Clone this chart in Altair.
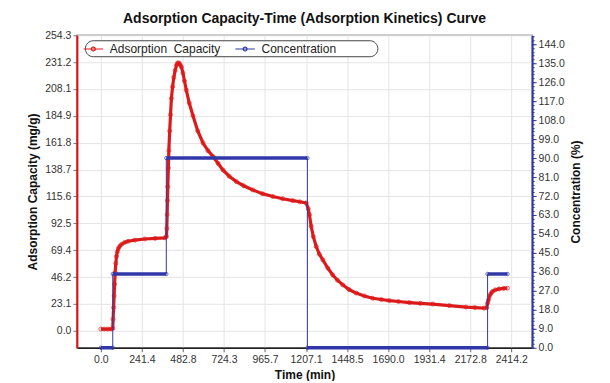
import altair as alt
import pandas as pd

# ---- data ----
TIME = [0, 20, 40, 60, 70, 72, 75, 78, 81, 84, 88, 92, 97, 104, 112, 123, 140, 160, 200, 258, 320, 376,
        386, 388, 390, 392, 394, 397, 400, 405, 410, 415, 422, 429, 437, 445, 452, 460, 467, 474, 483, 492,
        503, 520, 542, 570, 601, 630, 660, 690, 718, 755, 797, 840, 894, 950, 1012, 1070, 1129, 1170, 1208,
        1220, 1227, 1237, 1250, 1267, 1285, 1306, 1335, 1364, 1392, 1423, 1460, 1502, 1550, 1599, 1650,
        1697, 1750, 1815, 1880, 1952, 2050, 2148, 2200, 2255, 2270, 2275, 2280, 2285, 2294, 2304, 2320,
        2343, 2370, 2392]
CAPACITY = [1.5, 1.5, 1.5, 1.5, 2, 10, 20, 30, 40, 50, 58, 64, 68, 71, 73, 74.5, 76, 77, 78, 79, 79.5, 80,
            81, 88, 100, 112, 124, 140, 155, 172, 186, 200, 210, 218, 224, 228.7, 230.5, 230.4, 229, 227,
            221.8, 215, 207, 196, 185, 172, 161.6, 155, 150, 144, 138.4, 133, 128.4, 124.8, 121.2, 118,
            115.5, 113.6, 112, 111, 110, 105, 100, 90, 81, 72.5, 66, 61, 54, 48, 43.5, 39.5, 35.5, 32.4,
            30, 28, 26.9, 26, 25.2, 24.3, 23.6, 23, 21.7, 20.4, 20, 19.5, 19.8, 23.8, 26.5, 29.5, 32, 33.8,
            35.2, 36, 36.5, 36.7]

CONC_TIME = [0, 70, 70, 385, 385, 1215, 1215, 2275, 2275, 2392]
CONC_VALUE = [0, 0, 35, 35, 90, 90, 0, 0, 35, 35]

SEG_START = [0, 70, 385, 1215, 2275]
SEG_END = [70, 385, 1215, 2275, 2392]
SEG_LEVEL = [0, 35, 90, 0, 35]

X_TICKS = [0.0, 241.4, 482.8, 724.3, 965.7, 1207.1, 1448.5, 1690.0, 1931.4, 2172.8, 2414.2]
LEFT_TICKS = [0.0, 23.1, 46.2, 69.4, 92.5, 115.6, 138.7, 161.8, 184.9, 208.1, 231.2, 254.3]
RIGHT_TICKS = [0, 9, 18, 27, 36, 45, 54, 63, 72, 81, 90, 99, 108, 117, 126, 135, 144]
RIGHT_MINOR = [round(i * 1.8, 1) for i in range(83)]

SERIES = ["Adsorption \u00a0Capacity", "Concentration"]
RED = "#dd1a1a"
BLUE = "#3038a8"
FONT = "Liberation Sans"

red_df = pd.DataFrame({"t": TIME, "c": CAPACITY, "series": SERIES[0]})
blue_df = pd.DataFrame({"t": CONC_TIME, "v": CONC_VALUE, "series": SERIES[1],
                        "i": list(range(len(CONC_TIME)))})
seg_df = pd.DataFrame({"s": SEG_START, "e": SEG_END, "v": SEG_LEVEL})

xscale = alt.Scale(domain=[-141, 2537], nice=False, zero=False)
lscale = alt.Scale(domain=[-14.6, 254.3], nice=False, zero=False)
rscale = alt.Scale(domain=[0, 148.3], nice=False, zero=False)

xaxis = alt.Axis(values=X_TICKS, format=".1f", title="Time (min)", grid=True, gridColor="#e4e4e4",
                 domainColor="#222", domainWidth=1.5, tickColor="#666", tickSize=4, tickCount=100,
                 labelFontSize=10.5, labelPadding=3, titlePadding=4, labelOverlap=False)
laxis = alt.Axis(values=LEFT_TICKS, format=".1f", title="Adsorption Capacity (mg/g)", grid=True,
                 gridColor="#e4e4e4", domainColor="#e01010", domainWidth=2, tickColor="#777",
                 tickSize=4, tickCount=100, labelFontSize=10.5, labelPadding=2, titlePadding=5,
                 labelOverlap=False)
raxis = alt.Axis(values=RIGHT_TICKS, format=".1f", title="Concentration (%)", orient="right",
                 grid=False, domainColor=BLUE, domainWidth=2, tickColor=BLUE, tickSize=4,
                 tickCount=100, labelFontSize=10.5, labelPadding=2, titlePadding=6, titleAngle=270,
                 titleBaseline="top", labelOverlap=False)
minor_axis = alt.Axis(values=RIGHT_MINOR, orient="right", labels=False, domain=False, grid=False,
                      tickColor=BLUE, tickSize=2, tickCount=500, title=None, labelOverlap=False)

color_scale = alt.Scale(domain=SERIES, range=[RED, BLUE])
SYMBOL = "M-1.5,0H1.5M-0.3,0A0.3,0.3,0,1,0,0.3,0A0.3,0.3,0,1,0,-0.3,0"
legend = alt.Legend(orient="none", legendX=8, legendY=5, direction="horizontal",
                    title="\u2003\u2003", titleOrient="right", titleFontSize=11, titlePadding=40,
                    symbolType=SYMBOL, symbolSize=170, symbolStrokeWidth=1.2,
                    labelFontSize=12, labelFont=FONT, labelColor="#222", labelOffset=9,
                    fillColor="white", strokeColor="#444", cornerRadius=8, padding=1,
                    columnPadding=12)

red_line = alt.Chart(red_df).mark_line(strokeWidth=3.2).encode(
    x=alt.X("t:Q", scale=xscale, axis=xaxis),
    y=alt.Y("c:Q", scale=lscale, axis=laxis),
    color=alt.Color("series:N", scale=color_scale, legend=legend),
)
red_pts = alt.Chart(red_df).mark_point(shape="circle", size=16, filled=False, color=RED,
                                       strokeWidth=1).encode(
    x=alt.X("t:Q", scale=xscale),
    y=alt.Y("c:Q", scale=lscale),
)
left = alt.layer(red_line, red_pts)

blue_line = alt.Chart(blue_df).mark_line(strokeWidth=1).encode(
    x=alt.X("t:Q", scale=xscale),
    y=alt.Y("v:Q", scale=rscale, axis=raxis),
    order=alt.Order("i:Q"),
    color=alt.Color("series:N", scale=color_scale, legend=legend),
)
blue_seg = alt.Chart(seg_df).mark_rule(strokeWidth=3.5, color=BLUE).encode(
    x=alt.X("s:Q", scale=xscale),
    x2="e:Q",
    y=alt.Y("v:Q", scale=rscale),
)
blue_pts = alt.Chart(blue_df).mark_point(shape="circle", size=12, filled=False, color=BLUE,
                                         strokeWidth=1).encode(
    x=alt.X("t:Q", scale=xscale),
    y=alt.Y("v:Q", scale=rscale),
)
right = alt.layer(blue_line, blue_seg, blue_pts)

minor = alt.Chart(blue_df).mark_point(opacity=0).encode(
    x=alt.X("t:Q", scale=xscale),
    y=alt.Y("v:Q", scale=rscale, axis=minor_axis),
)

chart = alt.layer(left, right, minor).resolve_scale(y="independent").properties(
    width=456, height=313,
    autosize=alt.AutoSizeParams(type="none"),
    padding={"left": 69, "top": 27, "right": 70, "bottom": 33},
    title=alt.Title(text="Adsorption Capacity-Time (Adsorption Kinetics) Curve", fontSize=14,
                    font=FONT, fontWeight="bold", anchor="middle", offset=4, color="#111"),
).configure_view(stroke="#999", strokeWidth=1.5).configure_axis(
    labelFont=FONT, titleFont=FONT, labelColor="#333", titleColor="#111",
    titleFontSize=12, titleFontWeight="bold",
)

chart.save("out.html", embed_options={"renderer": "svg", "actions": False})
